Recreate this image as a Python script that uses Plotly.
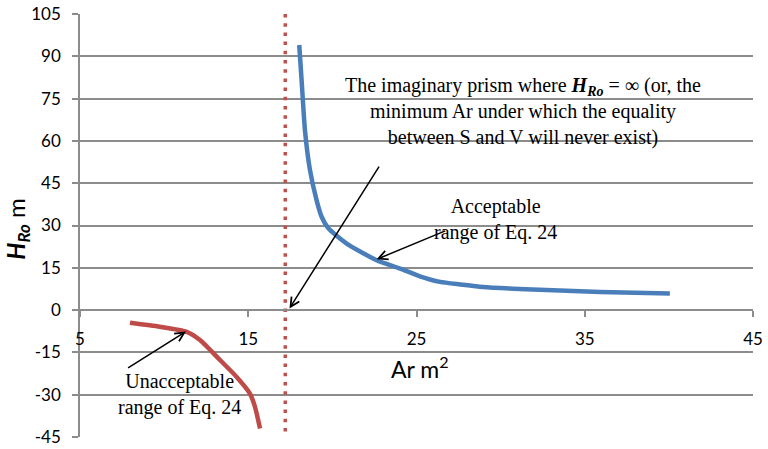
import plotly.graph_objects as go

# Acceptable branch of Eq. 24 (Ar in m^2, H_Ro in m)
acc_ar = [18.03, 18.17, 18.37, 18.67, 19.06, 19.36, 19.76, 20.85, 22.63,
          24.0, 25.2, 26.4, 27.6, 28.95, 31.9, 35.9, 40.06]
acc_h = [94.0, 81.6, 63.8, 49.6, 39.0, 33.1, 29.0, 23.6, 17.7,
         14.8, 12.0, 10.0, 9.1, 8.2, 7.3, 6.4, 5.9]

# Unacceptable branch of Eq. 24
unacc_ar = [7.97, 9.75, 11.34, 12.13, 13.32, 14.31, 15.1, 15.4, 15.7]
unacc_h = [-4.5, -5.9, -7.7, -10.6, -17.7, -23.7, -29.6, -34.3, -42.0]

# Imaginary prism: minimum Ar (asymptote)
asym_ar = [17.2, 17.2]
asym_h = [105, -45]

x_ticks = [5, 15, 25, 35, 45]
y_ticks = [-45, -30, -15, 0, 15, 30, 45, 60, 75, 90, 105]

BLUE = "#4A7EBB"
RED = "#BE4B48"
GRID = "#8C8C8C"
SERIF = "Liberation Serif"
SANS = "Lato"

fig = go.Figure()
fig.add_trace(go.Scatter(x=asym_ar, y=asym_h, mode="lines",
                         line=dict(color="#C0504D", width=3.5, dash="3.5px,5.7px"),
                         hoverinfo="skip"))
fig.add_trace(go.Scatter(x=acc_ar, y=acc_h, mode="lines",
                         line=dict(color=BLUE, width=4.5, shape="spline", smoothing=0.6)))
fig.add_trace(go.Scatter(x=unacc_ar, y=unacc_h, mode="lines",
                         line=dict(color=RED, width=4.5, shape="spline", smoothing=0.6)))

arrow = dict(text="", showarrow=True, arrowhead=5, arrowsize=1.2, arrowwidth=1.5,
             arrowcolor="black", xref="x", yref="y", axref="x", ayref="y", standoff=0)
label = dict(showarrow=False, align="center", xanchor="center", yanchor="middle",
             xref="x", yref="y", font=dict(family=SERIF, size=20, color="black"))
annotations = [
    dict(arrow, x=17.45, y=0.6, ax=22.83, ay=51.4),
    dict(arrow, x=22.63, y=18.0, ax=26.8, ay=28.3),
    dict(arrow, x=11.3, y=-7.6, ax=7.77, ay=-20.8),
    dict(label, text="The imaginary prism where <b><i>H</i></b><sub><b><i>Ro</i></b></sub> = ∞ (or, the<br>"
                     "minimum Ar under which the equality<br>between S and V will never exist)",
         x=31.35, y=70.6),
    dict(label, text="Acceptable<br>range of Eq. 24", x=29.72, y=32.1),
    dict(label, text="Unacceptable<br>range of Eq. 24", x=10.91, y=-29.8),
    # axis titles
    dict(text="Ar m<sup>2</sup>", x=0.505, y=0.165, xref="paper", yref="paper",
         xanchor="center", yanchor="middle", showarrow=False,
         font=dict(family=SANS, size=23, color="black")),
    dict(text="<b><i>H</i></b><sub><b><i>Ro</i></b></sub> m", x=-0.092, y=0.49,
         xref="paper", yref="paper", xanchor="center", yanchor="middle",
         textangle=-90, showarrow=False,
         font=dict(family=SANS, size=24, color="black")),
]

fig.update_layout(
    width=768, height=449,
    margin=dict(l=80, r=15, t=14, b=12, autoexpand=False),
    paper_bgcolor="white", plot_bgcolor="white",
    showlegend=False,
    annotations=annotations,
    xaxis=dict(range=[5, 45], tickvals=x_ticks, ticktext=[str(v) for v in x_ticks],
               anchor="free", position=0.3, showgrid=False, zeroline=False,
               showline=True, linecolor=GRID, linewidth=2, automargin=False,
               ticks="outside", ticklen=6, tickwidth=1.5, tickcolor=GRID,
               ticklabelstandoff=7,
               tickfont=dict(family=SANS, size=17, color="black")),
    yaxis=dict(range=[-45, 105], tickvals=y_ticks, ticktext=[str(v) for v in y_ticks],
               showgrid=True, gridcolor=GRID, gridwidth=1.5, zeroline=False,
               showline=True, linecolor=GRID, linewidth=1.5, automargin=False,
               ticks="outside", ticklen=6, tickwidth=1.5, tickcolor=GRID,
               ticklabelstandoff=8,
               tickfont=dict(family=SANS, size=17, color="black")),
)

fig.write_html("out.html")
